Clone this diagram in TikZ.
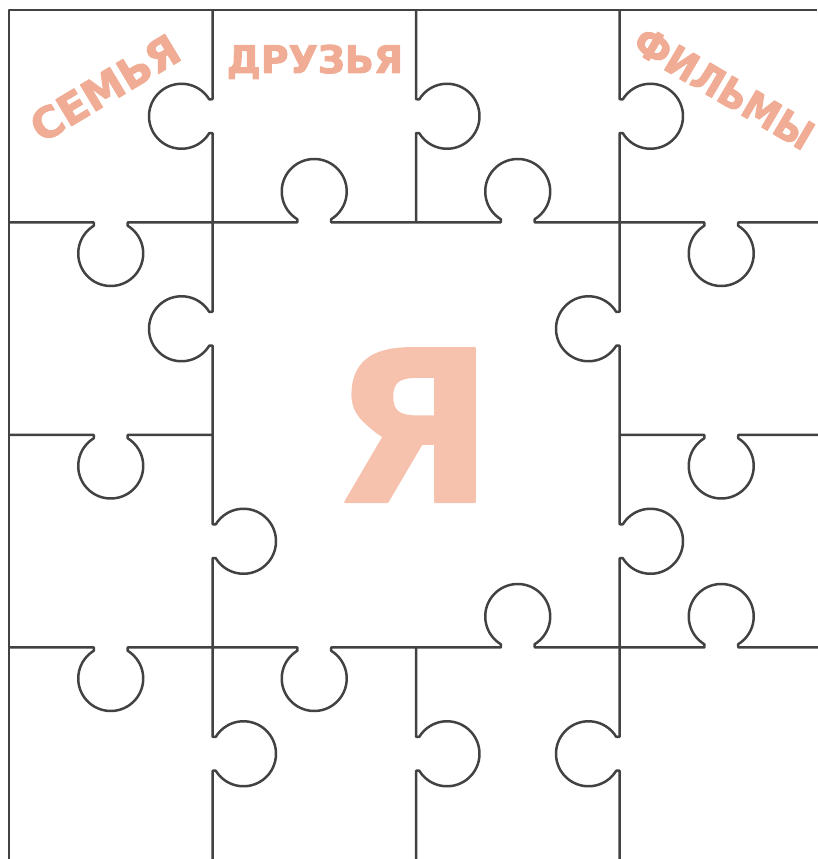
\documentclass[tikz,border=0pt]{standalone}
\usepackage{fontspec}
\usepackage{tikz}
\newfontfamily\labelfont{DejaVu Sans Bold}[FakeBold=2.5]
\newfontfamily\bigfont{DejaVu Sans Bold}[FakeBold=1]
\definecolor{puzzleline}{RGB}{66,66,66}
\definecolor{salmon}{RGB}{240,172,148}
\definecolor{palesalmon}{RGB}{246,194,174}

\begin{document}
\begin{tikzpicture}[x=1pt, y=1pt, line width=2.5pt, line join=round, every node/.style={inner sep=0pt}]
	\useasboundingbox (0,0) rectangle (817,859);
	\draw[puzzleline] (9,0) -- (9,849) -- (817,849);
	\foreach \x/\yc/\s in {212.5/742.75/-1, 212.5/530.25/-1, 212.5/317.75/1, 212.5/105.25/1, 416/742.75/1, 416/105.25/1, 619.5/742.75/1, 619.5/530.25/-1, 619.5/317.75/1, 619.5/105.25/-1} {
		\begin{scope}[cm={0,1,\s,0,(\x,\yc)}]
			\draw[puzzleline] (-106.25,0) -- (-17,0) -- (-17,3.3) arc[start angle=-121.5, end angle=-418.5, radius=32.5] -- (17,0) -- (106.25,0);
		\end{scope}
	}
	\foreach \xc/\y/\s in {110.75/636.5/-1, 314.25/636.5/1, 517.75/636.5/1, 721.25/636.5/-1, 110.75/424/-1, 721.25/424/-1, 110.75/211.5/-1, 314.25/211.5/-1, 517.75/211.5/1, 721.25/211.5/1} {
		\begin{scope}[cm={1,0,0,\s,(\xc,\y)}]
			\draw[puzzleline] (-101.75,0) -- (-17,0) -- (-17,3.3) arc[start angle=-121.5, end angle=-418.5, radius=32.5] -- (17,0) -- (101.75,0);
		\end{scope}
	}
	\node[text=salmon, font=\labelfont\fontsize{42}{42}\selectfont, rotate=31] (family) at (105,771) {СЕМЬЯ};
	\node[text=salmon, font=\labelfont\fontsize{38}{38}\selectfont, anchor=base] (friends) at (315,786) {ДРУЗЬЯ};
	\node[text=salmon, font=\labelfont\fontsize{40}{40}\selectfont, rotate=-30.5, xscale=0.92] (films) at (724,771) {ФИЛЬМЫ};
	\node[text=palesalmon, font=\bigfont\fontsize{211}{211}\selectfont, anchor=base] (me) at (413,357) {Я};
\end{tikzpicture}
\end{document}
